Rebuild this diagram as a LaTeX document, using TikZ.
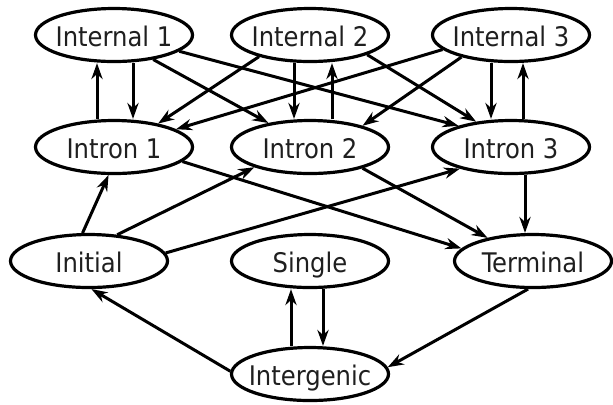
\documentclass[tikz,border=0pt]{standalone}
\usepackage{fontspec}
\setmainfont{DejaVu Sans Condensed}
\usetikzlibrary{shapes.geometric}
\usetikzlibrary{arrows.meta}
\colorlet{colorTxt}{black!88}
\tikzset{
   every path/.style={>={Stealth[length=8pt,width=5.6pt]}},
   region/.style={ellipse,draw,line width=1.6pt,minimum width=78.5pt,minimum height=26.5pt,
     inner xsep=-4pt,inner ysep=0pt,text height=11.5pt,text depth=0pt,
     text=colorTxt,font=\fontsize{13.5}{16}\selectfont},
   trans/.style={->,line width=1.5pt},
}

\begin{document}
\begin{tikzpicture}[x=0.5pt,y=-0.5pt]
  \useasboundingbox (0,0) rectangle (613,404);

  \node[region] (int1)   at (114, 35)  {Internal 1};
  \node[region] (int2)   at (310, 35)  {Internal 2};
  \node[region] (int3)   at (511, 35)  {Internal 3};

  \node[region] (intr1)  at (114,147)  {Intron 1};
  \node[region] (intr2)  at (310,147)  {Intron 2};
  \node[region] (intr3)  at (511,147)  {Intron 3};

  \node[region] (init)   at ( 89,261)  {Initial};
  \node[region] (single) at (310,261)  {Single};
  \node[region] (term)   at (533,261)  {Terminal};
  \node[region] (interg) at (310,374)  {Intergenic};

  % internal <-> intron
  \draw[trans] ([xshift=9.5pt]int1.south)  -- ([xshift=9.5pt]intr1.north);
  \draw[trans] ([xshift=-8.5pt]intr1.north) -- ([xshift=-8.5pt]int1.south);
  \draw[trans] ([xshift=-8pt]int2.south)   -- ([xshift=-8pt]intr2.north);
  \draw[trans] ([xshift=11pt]intr2.north)  -- ([xshift=11pt]int2.south);
  \draw[trans] ([xshift=-10pt]int3.south)  -- ([xshift=-10pt]intr3.north);
  \draw[trans] ([xshift=6pt]intr3.north)   -- ([xshift=6pt]int3.south);

  \draw[trans] (int1.-32.7)  -- (intr2.150.3);
  \draw[trans] (int1.-14.6)  -- (intr3.158.7);
  \draw[trans] (int2.203.5)  -- (intr1.28.5);
  \draw[trans] (int2.-19.2)  -- (intr3.144.3);
  \draw[trans] (int3.192.9)  -- (intr1.16.1);
  \draw[trans] (int3.204.3)  -- (intr2.22.6);

  % initial / terminal
  \draw[trans] (init.103.6)  -- (intr1.259.1);
  \draw[trans] (init.43.1)   -- (intr2.200.1);
  \draw[trans] (init.6.3)    -- (intr3.203);
  \draw[trans] (intr1.-12.4) -- (term.170.3);
  \draw[trans] (intr2.-22.8) -- (term.153);
  \draw[trans] ([xshift=7pt]intr3.south) -- ([xshift=7pt]intr3.south |- term.north);

  % intergenic
  \draw[trans] (term.260.8)  -- (interg.5);
  \draw[trans] (interg.178)  -- (init.275);
  \draw[trans] ([xshift=-9.5pt]interg.north) -- ([xshift=-9.5pt]single.south);
  \draw[trans] ([xshift=6.5pt]single.south)  -- ([xshift=6.5pt]interg.north);
\end{tikzpicture}
\end{document}
